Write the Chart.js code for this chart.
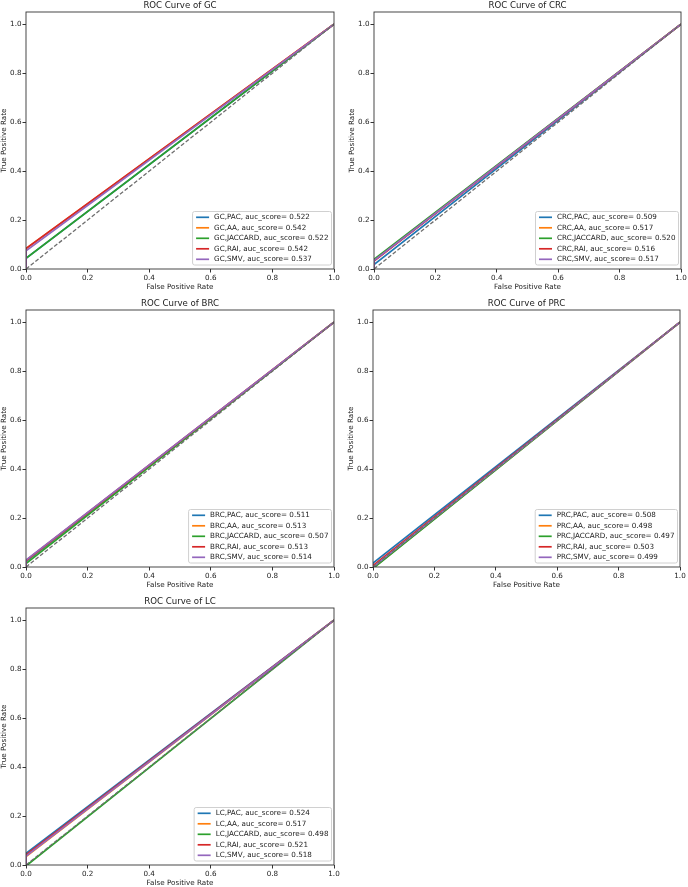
<!DOCTYPE html>
<html>
<head>
<meta charset="UTF-8">
<title>ROC Curves</title>
<script src="https://cdn.jsdelivr.net/npm/chart.js"></script>
<style>
  body { margin: 0; background: #fff; overflow: hidden; width: 688px; height: 887px; }
  canvas { position: absolute; }
</style>
</head>
<body>
<canvas id="gcChart"  width="344" height="291" style="left:0px;top:0px"></canvas>
<canvas id="crcChart" width="340" height="291" style="left:348px;top:0px"></canvas>
<canvas id="brcChart" width="344" height="291" style="left:0px;top:298px"></canvas>
<canvas id="prcChart" width="340" height="291" style="left:347px;top:298px"></canvas>
<canvas id="lcChart"  width="344" height="291" style="left:0px;top:596px"></canvas>

<script>
// данные
const methods = ['PAC', 'AA', 'JACCARD', 'RAI', 'SMV'];
const xTicks = [0, 0.2, 0.4, 0.6, 0.8, 1.0];
const yTicks = [0, 0.2, 0.4, 0.6, 0.8, 1.0];

const aucGC  = [0.522, 0.542, 0.522, 0.542, 0.537];
const aucCRC = [0.509, 0.517, 0.520, 0.516, 0.517];
const aucBRC = [0.511, 0.513, 0.507, 0.513, 0.514];
const aucPRC = [0.508, 0.498, 0.497, 0.503, 0.499];
const aucLC  = [0.524, 0.517, 0.498, 0.521, 0.518];

// средняя точка каждой ROC-кривой (между (0,0) и (1,1))
const fprGC  = [0, 0, 0, 0, 0];
const tprGC  = [0.044, 0.084, 0.044, 0.084, 0.074];
const fprCRC = [0, 0, 0, 0, 0];
const tprCRC = [0.018, 0.034, 0.040, 0.032, 0.034];
const fprBRC = [0, 0, 0, 0, 0];
const tprBRC = [0.022, 0.026, 0.014, 0.026, 0.028];
const fprPRC = [0, 0.004, 0.006, 0, 0.002];
const tprPRC = [0.016, 0, 0, 0.006, 0];
const fprLC  = [0, 0, 0.004, 0, 0];
const tprLC  = [0.048, 0.034, 0, 0.042, 0.036];

const colors = ['#1f77b4', '#ff7f0e', '#2ca02c', '#d62728', '#9467bd'];
const FONT = 'DejaVu Sans';

// рамка со всех четырёх сторон + заголовок по центру области графика
const frame = {
    id: 'frame',
    afterDraw(chart) {
        const a = chart.chartArea, ctx = chart.ctx;
        ctx.save();
        ctx.strokeStyle = '#333';
        ctx.lineWidth = 0.9;
        ctx.strokeRect(a.left, a.top, a.right - a.left, a.bottom - a.top);
        ctx.font = '8.6px "' + FONT + '"';
        ctx.fillStyle = '#222';
        ctx.textAlign = 'center';
        ctx.textBaseline = 'middle';
        ctx.fillText(chart.options.plugins.frame.title, (a.left + a.right) / 2, a.top - 6.5);
        ctx.restore();
    }
};

// легенда внутри графика, справа снизу
const boxLegend = {
    id: 'boxLegend',
    afterDatasetsDraw(chart) {
        const ctx = chart.ctx, a = chart.chartArea;
        const items = chart.data.datasets.filter(d => d.inLegend);
        ctx.save();
        ctx.font = '7.2px "' + FONT + '"';
        const tw = Math.max(...items.map(d => ctx.measureText(d.label).width));
        const rowH = 10.5, padL = 3.5, handle = 13, gap = 5, padR = 3;
        const w = padL + handle + gap + tw + padR;
        const h = items.length * rowH + 1;
        const x = a.right - 2.5 - w, y = a.bottom - 4 - h;
        ctx.beginPath();
        ctx.roundRect(x, y, w, h, 2);
        ctx.fillStyle = 'rgba(255,255,255,0.8)';
        ctx.fill();
        ctx.strokeStyle = '#d0d0d0';
        ctx.lineWidth = 1;
        ctx.stroke();
        items.forEach((d, i) => {
            const cy = y + 5.8 + i * rowH;
            ctx.beginPath();
            ctx.moveTo(x + padL, cy);
            ctx.lineTo(x + padL + handle, cy);
            ctx.strokeStyle = d.borderColor;
            ctx.lineWidth = 1.7;
            ctx.stroke();
            ctx.fillStyle = '#222';
            ctx.textBaseline = 'middle';
            ctx.fillText(d.label, x + padL + handle + gap, cy);
        });
        ctx.restore();
    }
};

function makeChart(id, name, auc, fpr, tpr, rightPad) {
    const datasets = methods.map((m, i) => ({
        label: name + ',' + m + ', auc_score= ' + auc[i].toFixed(3),
        data: [{ x: 0, y: 0 }, { x: fpr[i], y: tpr[i] }, { x: 1, y: 1 }],
        borderColor: colors[i],
        borderWidth: 1.7,
        pointRadius: 0,
        fill: false,
        order: 10 - i,
        inLegend: true
    }));
    datasets.push({
        label: 'diag',
        data: [{ x: 0, y: 0 }, { x: 1, y: 1 }],
        borderColor: '#6e6e6e',
        borderWidth: 1.3,
        borderDash: [4, 2],
        pointRadius: 0,
        fill: false,
        order: 4,
        inLegend: false
    });

    return new Chart(document.getElementById(id), {
        type: 'line',
        data: { datasets: datasets },
        plugins: [frame, boxLegend],
        options: {
            responsive: false,
            animation: false,
            layout: { padding: { left: 0, right: rightPad, top: 12, bottom: 0 } },
            plugins: {
                legend: { display: false },
                tooltip: { enabled: false },
                title: { display: false },
                frame: { title: 'ROC Curve of ' + name }
            },
            scales: {
                x: {
                    type: 'linear', min: 0, max: 1,
                    afterBuildTicks: s => { s.ticks = xTicks.map(v => ({ value: v })); },
                    afterFit: s => { s.height = 22; },
                    ticks: {
                        color: '#222', padding: 1, maxRotation: 0,
                        font: { family: FONT, size: 7.2 },
                        callback: v => v.toFixed(1)
                    },
                    grid: { drawOnChartArea: false, drawTicks: true, tickLength: 3.5, tickColor: '#333' },
                    border: { display: false },
                    title: {
                        display: true, text: 'False Positive Rate', color: '#222',
                        font: { family: FONT, size: 7.2 }, padding: 0
                    }
                },
                y: {
                    type: 'linear', min: 0, max: 1.05,
                    afterBuildTicks: s => { s.ticks = yTicks.map(v => ({ value: v })); },
                    afterFit: s => { s.width = 26; },
                    ticks: {
                        color: '#222', padding: 1,
                        font: { family: FONT, size: 7.2 },
                        callback: v => v.toFixed(1)
                    },
                    grid: { drawOnChartArea: false, drawTicks: true, tickLength: 3.5, tickColor: '#333' },
                    border: { display: false },
                    title: {
                        display: true, text: 'True Positive Rate', color: '#222',
                        font: { family: FONT, size: 7.2 }, padding: 0
                    }
                }
            }
        }
    });
}

makeChart('gcChart',  'GC',  aucGC,  fprGC,  tprGC,  10);
makeChart('crcChart', 'CRC', aucCRC, fprCRC, tprCRC, 7);
makeChart('brcChart', 'BRC', aucBRC, fprBRC, tprBRC, 10);
makeChart('prcChart', 'PRC', aucPRC, fprPRC, tprPRC, 7);
makeChart('lcChart',  'LC',  aucLC,  fprLC,  tprLC,  10);
</script>
</body>
</html>
